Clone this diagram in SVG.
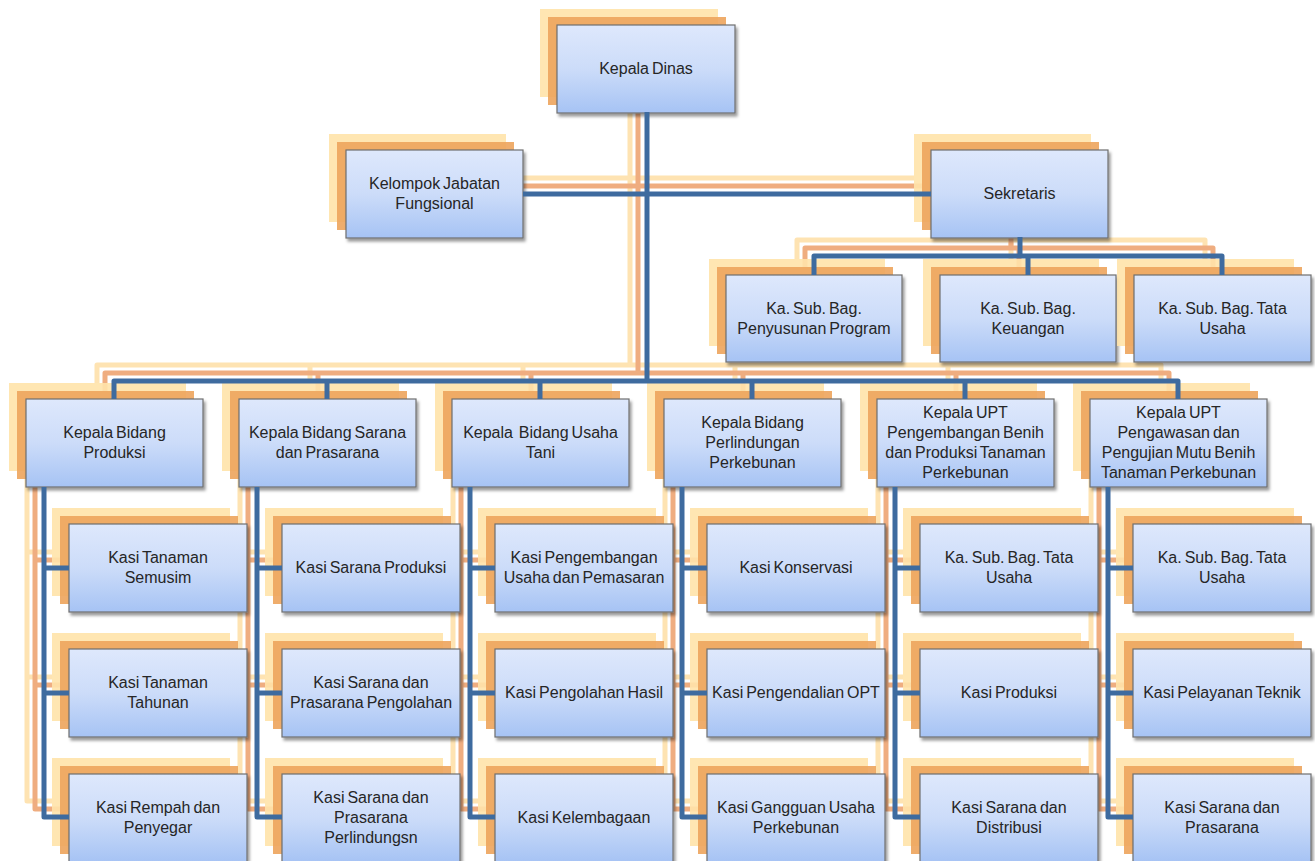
<svg xmlns="http://www.w3.org/2000/svg" width="1315" height="861" viewBox="0 0 1315 861">
<defs>
<linearGradient id="boxg" x1="0" y1="0" x2="0" y2="1">
<stop offset="0" stop-color="#DEE8FC"/>
<stop offset="0.5" stop-color="#CCDCF9"/>
<stop offset="1" stop-color="#A6C3F4"/>
</linearGradient>
<filter id="ds" x="-10%" y="-10%" width="125%" height="130%">
<feDropShadow dx="2" dy="3" stdDeviation="1.5" flood-color="#000" flood-opacity="0.4"/>
</filter>
<style>
.s1{fill:#FFE3AA;opacity:0.9}
.s2{fill:#EDA45C;opacity:0.9}
.bx{fill:url(#boxg);stroke:#6E6E6E;stroke-width:1.2;filter:url(#ds)}
.t{font-family:"Liberation Sans",Arial,sans-serif;font-size:16px;fill:#262626;text-anchor:middle;word-spacing:-1.5px}
.cb{fill:none;stroke:#3E6B9F;stroke-width:5;stroke-linejoin:round}
.cl{fill:none;stroke:#FEE3B2;stroke-width:5;stroke-linejoin:round}
.co{fill:none;stroke:#EFAD80;stroke-width:5;stroke-linejoin:round}
</style>
</defs>
<rect width="1315" height="861" fill="#FFFFFF"/>

<g id="connector-shadows">
<g transform="translate(-17,-16)" class="cl">
<path d="M647 112 V381"/>
<path d="M523 194 H931"/>
<path d="M1020 237 V256"/>
<path d="M814 275 V256 H1222 V275"/>
<path d="M1028 256 V275"/>
<path d="M114 399 V381 H1178 V399"/>
<path d="M327 381 V399 M540 381 V399 M752 381 V399 M965 381 V399"/>
<path d="M44 487 V817 H69 M44 568 H69 M44 693 H69"/>
<path d="M257 487 V817 H282 M257 568 H282 M257 693 H282"/>
<path d="M470 487 V817 H495 M470 568 H495 M470 693 H495"/>
<path d="M682 487 V817 H707 M682 568 H707 M682 693 H707"/>
<path d="M895 487 V817 H920 M895 568 H920 M895 693 H920"/>
<path d="M1108 487 V817 H1133 M1108 568 H1133 M1108 693 H1133"/>
</g>
<g transform="translate(-9,-8)" class="co">
<path d="M647 112 V381"/>
<path d="M523 194 H931"/>
<path d="M1020 237 V256"/>
<path d="M814 275 V256 H1222 V275"/>
<path d="M1028 256 V275"/>
<path d="M114 399 V381 H1178 V399"/>
<path d="M327 381 V399 M540 381 V399 M752 381 V399 M965 381 V399"/>
<path d="M44 487 V817 H69 M44 568 H69 M44 693 H69"/>
<path d="M257 487 V817 H282 M257 568 H282 M257 693 H282"/>
<path d="M470 487 V817 H495 M470 568 H495 M470 693 H495"/>
<path d="M682 487 V817 H707 M682 568 H707 M682 693 H707"/>
<path d="M895 487 V817 H920 M895 568 H920 M895 693 H920"/>
<path d="M1108 487 V817 H1133 M1108 568 H1133 M1108 693 H1133"/>
</g>
</g>

<g id="kepala-dinas"><rect class="s1" x="540" y="9" width="178" height="88"/><rect class="s2" x="548" y="17" width="178" height="88"/><rect class="bx" x="557" y="25" width="178" height="88"/><text class="t" x="646" y="74">Kepala Dinas</text></g>
<g id="kelompok"><rect class="s1" x="329" y="134" width="177" height="88"/><rect class="s2" x="337" y="142" width="177" height="88"/><rect class="bx" x="346" y="150" width="177" height="88"/><text class="t" x="434.5" y="189">Kelompok Jabatan</text><text class="t" x="434.5" y="209">Fungsional</text></g>
<g id="sekretaris"><rect class="s1" x="914" y="134" width="177" height="88"/><rect class="s2" x="922" y="142" width="177" height="88"/><rect class="bx" x="931" y="150" width="177" height="88"/><text class="t" x="1019.5" y="199">Sekretaris</text></g>

<g id="subbag-program"><rect class="s1" x="709" y="259" width="176" height="87"/><rect class="s2" x="717" y="267" width="176" height="87"/><rect class="bx" x="726" y="275" width="176" height="87"/><text class="t" x="814" y="314">Ka. Sub. Bag.</text><text class="t" x="814" y="334">Penyusunan Program</text></g>
<g id="subbag-keuangan"><rect class="s1" x="923" y="259" width="176" height="87"/><rect class="s2" x="931" y="267" width="176" height="87"/><rect class="bx" x="940" y="275" width="176" height="87"/><text class="t" x="1028" y="314">Ka. Sub. Bag.</text><text class="t" x="1028" y="334">Keuangan</text></g>
<g id="subbag-tatausaha"><rect class="s1" x="1117" y="259" width="177" height="87"/><rect class="s2" x="1125" y="267" width="177" height="87"/><rect class="bx" x="1134" y="275" width="177" height="87"/><text class="t" x="1222.5" y="314">Ka. Sub. Bag. Tata</text><text class="t" x="1222.5" y="334">Usaha</text></g>

<g id="bidang-produksi"><rect class="s1" x="9" y="383" width="177" height="88"/><rect class="s2" x="17" y="391" width="177" height="88"/><rect class="bx" x="26" y="399" width="177" height="88"/><text class="t" x="114.5" y="438">Kepala Bidang</text><text class="t" x="114.5" y="458">Produksi</text></g>
<g id="bidang-sarana"><rect class="s1" x="222" y="383" width="177" height="88"/><rect class="s2" x="230" y="391" width="177" height="88"/><rect class="bx" x="239" y="399" width="177" height="88"/><text class="t" x="327.5" y="438">Kepala Bidang Sarana</text><text class="t" x="327.5" y="458">dan Prasarana</text></g>
<g id="bidang-usahatani"><rect class="s1" x="435" y="383" width="177" height="88"/><rect class="s2" x="443" y="391" width="177" height="88"/><rect class="bx" x="452" y="399" width="177" height="88"/><text class="t" x="540.5" y="438" style="white-space:pre">Kepala  Bidang Usaha</text><text class="t" x="540.5" y="458">Tani</text></g>
<g id="bidang-perlindungan"><rect class="s1" x="647" y="383" width="177" height="88"/><rect class="s2" x="655" y="391" width="177" height="88"/><rect class="bx" x="664" y="399" width="177" height="88"/><text class="t" x="752.5" y="428">Kepala Bidang</text><text class="t" x="752.5" y="448">Perlindungan</text><text class="t" x="752.5" y="468">Perkebunan</text></g>
<g id="upt-pengembangan"><rect class="s1" x="860" y="383" width="177" height="88"/><rect class="s2" x="868" y="391" width="177" height="88"/><rect class="bx" x="877" y="399" width="177" height="88"/><text class="t" x="965.5" y="418">Kepala UPT</text><text class="t" x="965.5" y="438">Pengembangan Benih</text><text class="t" x="965.5" y="458">dan Produksi Tanaman</text><text class="t" x="965.5" y="478">Perkebunan</text></g>
<g id="upt-pengawasan"><rect class="s1" x="1073" y="383" width="177" height="88"/><rect class="s2" x="1081" y="391" width="177" height="88"/><rect class="bx" x="1090" y="399" width="177" height="88"/><text class="t" x="1178.5" y="418">Kepala UPT</text><text class="t" x="1178.5" y="438">Pengawasan dan</text><text class="t" x="1178.5" y="458">Pengujian Mutu Benih</text><text class="t" x="1178.5" y="478">Tanaman Perkebunan</text></g>

<g id="kasi-semusim"><rect class="s1" x="52" y="508" width="178" height="88"/><rect class="s2" x="60" y="516" width="178" height="88"/><rect class="bx" x="69" y="524" width="178" height="88"/><text class="t" x="158" y="563">Kasi Tanaman</text><text class="t" x="158" y="583">Semusim</text></g>
<g id="kasi-tahunan"><rect class="s1" x="52" y="633" width="178" height="88"/><rect class="s2" x="60" y="641" width="178" height="88"/><rect class="bx" x="69" y="649" width="178" height="88"/><text class="t" x="158" y="688">Kasi Tanaman</text><text class="t" x="158" y="708">Tahunan</text></g>
<g id="kasi-rempah"><rect class="s1" x="52" y="758" width="178" height="88"/><rect class="s2" x="60" y="766" width="178" height="88"/><rect class="bx" x="69" y="774" width="178" height="88"/><text class="t" x="158" y="813">Kasi Rempah dan</text><text class="t" x="158" y="833">Penyegar</text></g>

<g id="kasi-sarana-produksi"><rect class="s1" x="265" y="508" width="178" height="88"/><rect class="s2" x="273" y="516" width="178" height="88"/><rect class="bx" x="282" y="524" width="178" height="88"/><text class="t" x="371" y="573">Kasi Sarana Produksi</text></g>
<g id="kasi-sarana-pengolahan"><rect class="s1" x="265" y="633" width="178" height="88"/><rect class="s2" x="273" y="641" width="178" height="88"/><rect class="bx" x="282" y="649" width="178" height="88"/><text class="t" x="371" y="688">Kasi Sarana dan</text><text class="t" x="371" y="708">Prasarana Pengolahan</text></g>
<g id="kasi-sarana-perlindungan"><rect class="s1" x="265" y="758" width="178" height="88"/><rect class="s2" x="273" y="766" width="178" height="88"/><rect class="bx" x="282" y="774" width="178" height="88"/><text class="t" x="371" y="803">Kasi Sarana dan</text><text class="t" x="371" y="823">Prasarana</text><text class="t" x="371" y="843">Perlindungsn</text></g>

<g id="kasi-pengembangan-usaha"><rect class="s1" x="478" y="508" width="178" height="88"/><rect class="s2" x="486" y="516" width="178" height="88"/><rect class="bx" x="495" y="524" width="178" height="88"/><text class="t" x="584" y="563">Kasi Pengembangan</text><text class="t" x="584" y="583">Usaha dan Pemasaran</text></g>
<g id="kasi-pengolahan-hasil"><rect class="s1" x="478" y="633" width="178" height="88"/><rect class="s2" x="486" y="641" width="178" height="88"/><rect class="bx" x="495" y="649" width="178" height="88"/><text class="t" x="584" y="698">Kasi Pengolahan Hasil</text></g>
<g id="kasi-kelembagaan"><rect class="s1" x="478" y="758" width="178" height="88"/><rect class="s2" x="486" y="766" width="178" height="88"/><rect class="bx" x="495" y="774" width="178" height="88"/><text class="t" x="584" y="823">Kasi Kelembagaan</text></g>

<g id="kasi-konservasi"><rect class="s1" x="690" y="508" width="178" height="88"/><rect class="s2" x="698" y="516" width="178" height="88"/><rect class="bx" x="707" y="524" width="178" height="88"/><text class="t" x="796" y="573">Kasi Konservasi</text></g>
<g id="kasi-pengendalian-opt"><rect class="s1" x="690" y="633" width="178" height="88"/><rect class="s2" x="698" y="641" width="178" height="88"/><rect class="bx" x="707" y="649" width="178" height="88"/><text class="t" x="796" y="698">Kasi Pengendalian OPT</text></g>
<g id="kasi-gangguan-usaha"><rect class="s1" x="690" y="758" width="178" height="88"/><rect class="s2" x="698" y="766" width="178" height="88"/><rect class="bx" x="707" y="774" width="178" height="88"/><text class="t" x="796" y="813">Kasi Gangguan Usaha</text><text class="t" x="796" y="833">Perkebunan</text></g>

<g id="upt1-tatausaha"><rect class="s1" x="903" y="508" width="178" height="88"/><rect class="s2" x="911" y="516" width="178" height="88"/><rect class="bx" x="920" y="524" width="178" height="88"/><text class="t" x="1009" y="563">Ka. Sub. Bag. Tata</text><text class="t" x="1009" y="583">Usaha</text></g>
<g id="upt1-produksi"><rect class="s1" x="903" y="633" width="178" height="88"/><rect class="s2" x="911" y="641" width="178" height="88"/><rect class="bx" x="920" y="649" width="178" height="88"/><text class="t" x="1009" y="698">Kasi Produksi</text></g>
<g id="upt1-distribusi"><rect class="s1" x="903" y="758" width="178" height="88"/><rect class="s2" x="911" y="766" width="178" height="88"/><rect class="bx" x="920" y="774" width="178" height="88"/><text class="t" x="1009" y="813">Kasi Sarana dan</text><text class="t" x="1009" y="833">Distribusi</text></g>

<g id="upt2-tatausaha"><rect class="s1" x="1116" y="508" width="178" height="88"/><rect class="s2" x="1124" y="516" width="178" height="88"/><rect class="bx" x="1133" y="524" width="178" height="88"/><text class="t" x="1222" y="563">Ka. Sub. Bag. Tata</text><text class="t" x="1222" y="583">Usaha</text></g>
<g id="upt2-pelayanan"><rect class="s1" x="1116" y="633" width="178" height="88"/><rect class="s2" x="1124" y="641" width="178" height="88"/><rect class="bx" x="1133" y="649" width="178" height="88"/><text class="t" x="1222" y="698">Kasi Pelayanan Teknik</text></g>
<g id="upt2-prasarana"><rect class="s1" x="1116" y="758" width="178" height="88"/><rect class="s2" x="1124" y="766" width="178" height="88"/><rect class="bx" x="1133" y="774" width="178" height="88"/><text class="t" x="1222" y="813">Kasi Sarana dan</text><text class="t" x="1222" y="833">Prasarana</text></g>

<g id="connectors" class="cb">
<path d="M647 112 V381"/>
<path d="M523 194 H931"/>
<path d="M1020 237 V256"/>
<path d="M814 275 V256 H1222 V275"/>
<path d="M1028 256 V275"/>
<path d="M114 399 V381 H1178 V399"/>
<path d="M327 381 V399 M540 381 V399 M752 381 V399 M965 381 V399"/>
<path d="M44 487 V817 H69 M44 568 H69 M44 693 H69"/>
<path d="M257 487 V817 H282 M257 568 H282 M257 693 H282"/>
<path d="M470 487 V817 H495 M470 568 H495 M470 693 H495"/>
<path d="M682 487 V817 H707 M682 568 H707 M682 693 H707"/>
<path d="M895 487 V817 H920 M895 568 H920 M895 693 H920"/>
<path d="M1108 487 V817 H1133 M1108 568 H1133 M1108 693 H1133"/>
</g>
</svg>
